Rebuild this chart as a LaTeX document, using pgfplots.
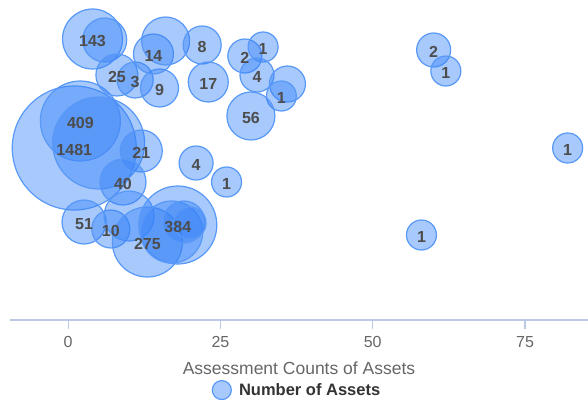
\documentclass[border=0pt]{standalone}
\usepackage{pgfplots}
\pgfplotsset{compat=1.18}
\usepackage{pgfplotstable}
\usepackage{fontspec}
\setmainfont{Liberation Sans}
\definecolor{bubFill}{RGB}{56,131,248}
\definecolor{bubEdge}{RGB}{88,152,247}
\definecolor{tickc}{RGB}{188,201,230}
\definecolor{txtc}{RGB}{102,102,102}
\definecolor{lblc}{RGB}{77,77,77}
\definecolor{legc}{RGB}{51,51,51}

\pgfplotstableread{
x y r
1 -148 62
2 -121 40
5 -143 46
4 -39 30
6 -40 22
8 -75 21
11 -80 18
15 -88 19
14 -54 20
16 -41 24
22 -45 19
23 -82 20
29 -56 17
32 -47 15
31 -75 17
36 -84 18
35 -96 15
30 -116 24
12 -151 21
9 -182 23
21 -163 17
26 -182 15
2.6 -222 22
7 -229 19
10 -216 25
13 -242 35
18 -225 39
17 -232 31
19 -222 21
20 -223 16
60 -50 17
62 -71 15
82 -148 15
58 -235 15
}\bubbles

\pgfplotstableread{
x y label
1 -148 1481
2 -121 409
4 -39 143
8 -75 25
11 -80 3
15 -88 9
14 -54 14
22 -45 8
23 -82 17
29 -56 2
32 -47 1
31 -75 4
35 -96 1
30 -116 56
12 -151 21
9 -182 40
21 -163 4
26 -182 1
2.6 -222 51
7 -229 10
13 -242 275
18 -225 384
60 -50 2
62 -71 1
82 -148 1
58 -235 1
}\labels

\begin{document}
\begin{tikzpicture}
\begin{axis}[
  name=ax,
  scale only axis,
  width=578pt, height=320pt,
  xmin=-9.55, xmax=85.34,
  ymin=-320, ymax=0,
  clip=false,
  hide y axis,
  axis x line*=bottom,
  x axis line style={draw=tickc, line width=1.2pt, -},
  xtick={0,25,50,75},
  xtick align=outside,
  xtick pos=bottom,
  major tick length=9pt,
  every tick/.style={draw=tickc, line width=1.2pt},
  /pgf/number format/assume math mode=true,
  xticklabel style={font=\fontsize{16}{18}\selectfont, text=txtc, anchor=base, yshift=-18pt},
  xlabel={Assessment Counts of Assets},
  xlabel style={font=\fontsize{17.5}{20}\selectfont, text=txtc, at={(axis description cs:0.5,0)}, anchor=base, yshift=-54pt},
  legend style={draw=none, fill=none, at={(axis description cs:0.4965,-0.219)}, anchor=center,
    font=\fontsize{16.5}{18}\selectfont\bfseries, text=legc, inner sep=0pt},
  legend cell align=left,
]
\addlegendimage{legend image code/.code={\draw[fill=bubFill, fill opacity=0.44, draw=bubEdge, line width=1.2pt] (0pt,0pt) circle (9.5pt); \path (15pt,0pt);}}
\addlegendentry{Number of Assets}

\addplot[scatter, only marks, mark=*, forget plot,
  scatter/use mapped color={draw=bubEdge, fill=bubFill},
  mark options={fill opacity=0.44, line width=1.2pt},
  visualization depends on={\thisrow{r}\as\rad},
  scatter/@pre marker code/.append style={/tikz/mark size=\rad pt}]
  table[x=x, y=y] {\bubbles};

\addplot[only marks, mark=none, forget plot,
  point meta=explicit symbolic,
  nodes near coords,
  every node near coord/.append style={font=\fontsize{16}{18}\selectfont\bfseries, text=lblc, anchor=center, inner sep=0pt, yshift=-2pt}]
  table[x=x, y=y, meta=label] {\labels};
\end{axis}
\pgfresetboundingbox
\path[use as bounding box] ([xshift=-10pt,yshift=-80pt]ax.south west) rectangle (ax.north east);
\end{tikzpicture}
\end{document}
